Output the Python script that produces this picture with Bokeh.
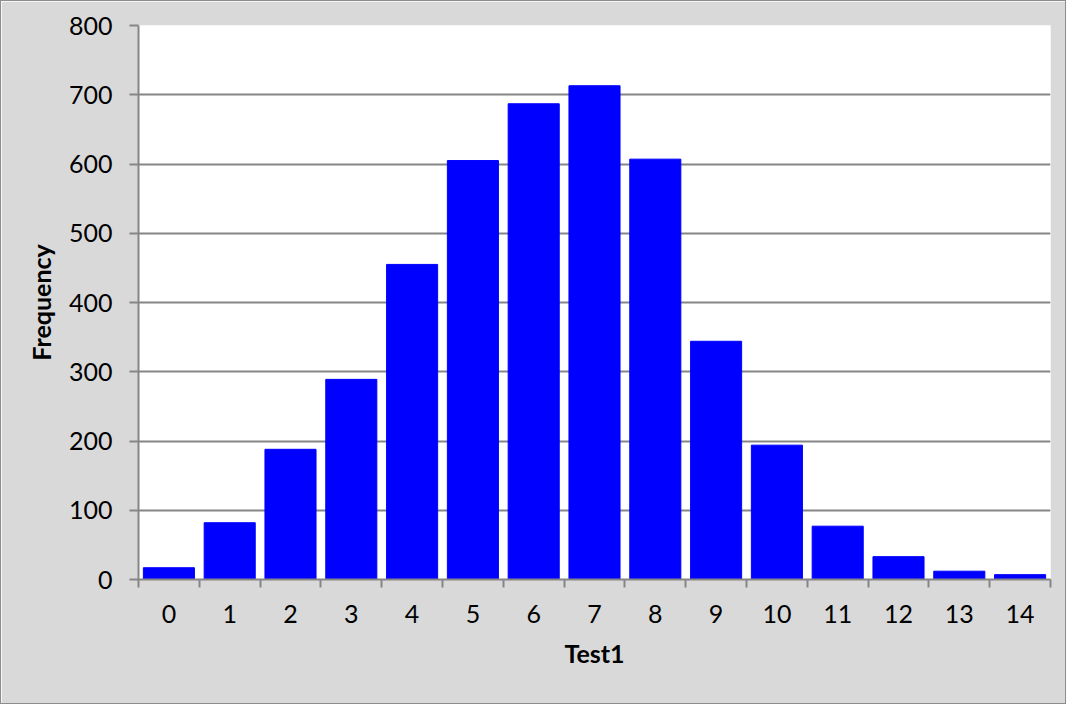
from bokeh.plotting import figure
from bokeh.models import FixedTicker, Range1d
from bokeh.embed import file_html
from bokeh.resources import INLINE

categories = list(range(15))
frequency = [17, 82, 188, 289, 455, 605, 687, 713, 607, 344, 194, 77, 33, 12, 7]
y_ticks = [0, 100, 200, 300, 400, 500, 600, 700, 800]

FONT = "Lato"
GRAY = "#868686"
BG = "#d9d9d9"

p = figure(width=1066, height=704, output_backend="svg", toolbar_location=None,
           x_range=Range1d(-0.5, 14.5), y_range=Range1d(0, 800),
           min_border_left=137, min_border_top=24, min_border_right=17, min_border_bottom=126)
p.styles = {"border": "1px solid #8c8c8c"}
p.background_fill_color = "white"
p.border_fill_color = BG
p.outline_line_color = None

p.vbar(x=categories, top=frequency, width=0.84, color="#0000ff")

# x axis
xa = p.xaxis[0]
xa.ticker = FixedTicker(ticks=categories, minor_ticks=[c - 0.5 for c in categories] + [14.5])
xa.major_tick_out = 0
xa.major_tick_in = 0
xa.minor_tick_out = 8
xa.minor_tick_in = 0
xa.minor_tick_line_color = GRAY
xa.minor_tick_line_width = 2
xa.axis_line_color = GRAY
xa.axis_line_width = 2
xa.major_label_text_font = FONT
xa.major_label_text_font_size = "25px"
xa.major_label_text_color = "black"
xa.major_label_standoff = 17
xa.axis_label = "Test1"
xa.axis_label_text_font = FONT
xa.axis_label_text_font_style = "bold"
xa.axis_label_text_font_size = "25px"
xa.axis_label_text_color = "black"
xa.axis_label_standoff = 12

# y axis
ya = p.yaxis[0]
ya.ticker = FixedTicker(ticks=y_ticks)
ya.major_tick_out = 9
ya.major_tick_in = 0
ya.minor_tick_out = 0
ya.minor_tick_in = 0
ya.major_tick_line_color = GRAY
ya.major_tick_line_width = 2
ya.axis_line_color = GRAY
ya.axis_line_width = 2
ya.major_label_text_font = FONT
ya.major_label_text_font_size = "25px"
ya.major_label_text_color = "black"
ya.major_label_standoff = 17
ya.axis_label = "Frequency"
ya.axis_label_text_font = FONT
ya.axis_label_text_font_style = "bold"
ya.axis_label_text_font_size = "25px"
ya.axis_label_text_color = "black"
ya.axis_label_standoff = 10

p.xgrid.grid_line_color = None
p.ygrid.grid_line_color = GRAY
p.ygrid.grid_line_width = 2
p.ygrid.ticker = FixedTicker(ticks=y_ticks)

open("out.html", "w").write(file_html(p, INLINE))
